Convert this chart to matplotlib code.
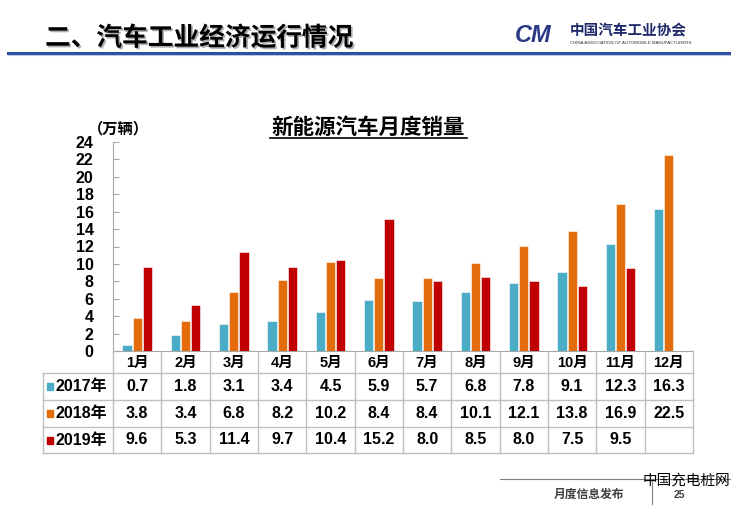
import numpy as np
import matplotlib
matplotlib.use("Agg")
import matplotlib.pyplot as plt
from matplotlib import patheffects as pe
from matplotlib.lines import Line2D
from matplotlib.patches import Rectangle

months = ["1月", "2月", "3月", "4月", "5月", "6月", "7月", "8月", "9月", "10月", "11月", "12月"]
series_names = ["2017年", "2018年", "2019年"]
sales_2017 = [0.7, 1.8, 3.1, 3.4, 4.5, 5.9, 5.7, 6.8, 7.8, 9.1, 12.3, 16.3]
sales_2018 = [3.8, 3.4, 6.8, 8.2, 10.2, 8.4, 8.4, 10.1, 12.1, 13.8, 16.9, 22.5]
sales_2019 = [9.6, 5.3, 11.4, 9.7, 10.4, 15.2, 8.0, 8.5, 8.0, 7.5, 9.5, None]
yticks = list(range(0, 25, 2))

colors = ["#4BACC6", "#E46C0A", "#C00000"]
CJK = ["Noto Sans CJK SC", "DejaVu Sans"]
NUM = ["Liberation Sans", "Noto Sans CJK SC"]

W, H = 731, 512
fig = plt.figure(figsize=(W / 100, H / 100), dpi=100)
fig.patch.set_facecolor("white")

def fx(px):
    return px / W

def fy(py):
    return 1 - py / H

# ---- header ----
fig.text(fx(45), fy(38), "二、汽车工业经济运行情况", family=CJK, weight="bold", fontsize=18.5,
         color="black", va="center", ha="left",
         path_effects=[pe.withSimplePatchShadow(offset=(1.2, -1.2), shadow_rgbFace="#999999", alpha=0.8)])
fig.add_artist(Line2D([fx(8), 1.0], [fy(52.5), fy(52.5)], color="#2E4E9E", lw=2.2))
fig.add_artist(Line2D([fx(8), 1.0], [fy(54.5), fy(54.5)], color="#B8C4E0", lw=0.8))
# logo
fig.text(fx(515), fy(35), "CM", family=["Liberation Sans"], weight="bold", style="italic",
         fontsize=17, color="#2B3886", va="center", ha="left")
fig.text(fx(570), fy(30), "中国汽车工业协会", family=CJK, weight="bold", fontsize=10.5,
         color="#1F2A6B", va="center", ha="left")
fig.text(fx(570), fy(43), "CHINA ASSOCIATION OF AUTOMOBILE MANUFACTURERS", family=["Liberation Sans"],
         fontsize=3.2, color="#333333", va="center", ha="left")

# ---- chart ----
ax_l, ax_r, ax_t, ax_b = 113, 693, 142, 351
ax = fig.add_axes([fx(ax_l), fy(ax_b), fx(ax_r - ax_l), (ax_b - ax_t) / H])
x = np.arange(len(months))
bw = 0.19
offs = [-0.21, 0.0, 0.21]
for vals, c, o in zip([sales_2017, sales_2018, sales_2019], colors, offs):
    v = np.array([np.nan if a is None else a for a in vals], dtype=float)
    ax.bar(x + o, v, width=bw, color=c, edgecolor="white", linewidth=0.4, zorder=3)
ax.set_xlim(-0.5, len(months) - 0.5)
ax.set_ylim(0, 24)
ax.set_yticks(yticks)
ax.set_yticklabels([str(t) for t in yticks], family=NUM, weight="bold", fontsize=11.5)
ax.set_xticks([])
for s in ["top", "right"]:
    ax.spines[s].set_visible(False)
ax.spines["left"].set_color("#A6A6A6")
ax.spines["bottom"].set_color("#A6A6A6")
ax.tick_params(axis="y", direction="in", length=4, color="#A6A6A6", pad=14)
ax.set_facecolor("none")

fig.text(fx(368), fy(127), "新能源汽车月度销量", family=CJK, weight="bold", fontsize=15.5,
         ha="center", va="center")
fig.add_artist(Line2D([fx(270), fx(467)], [fy(138), fy(138)], color="black", lw=1.2))
fig.text(fx(88), fy(128), "（万辆）", family=CJK, weight="bold", fontsize=11, ha="left", va="center")

# ---- data table ----
col_w = (ax_r - ax_l) / len(months)
lab_left = 43
tb = fig.add_axes([fx(lab_left), fy(453), fx(ax_r - lab_left), (453 - 351) / H])
tb.set_xlim(-0.5 - (ax_l - lab_left) / col_w, len(months) - 0.5)
tb.set_ylim(453, 351)
tb.axis("off")
rows_y = [351, 373, 400, 427, 453]
gc = "#BFBFBF"
for yb in rows_y[1:]:
    tb.plot([tb.get_xlim()[0], len(months) - 0.5], [yb, yb], color=gc, lw=1, clip_on=False)
tb.plot([tb.get_xlim()[0]] * 2, [373, 453], color=gc, lw=1, clip_on=False)
for i in range(len(months) + 1):
    tb.plot([i - 0.5, i - 0.5], [351, 453], color=gc, lw=1, clip_on=False)
for i, m in enumerate(months):
    tb.text(i, (rows_y[0] + rows_y[1]) / 2 + 1, m, family=NUM, weight="bold", fontsize=10.5,
            ha="center", va="center")
lab_x0 = tb.get_xlim()[0]
for r, (name, vals, c) in enumerate(zip(series_names, [sales_2017, sales_2018, sales_2019], colors)):
    yc = (rows_y[r + 1] + rows_y[r + 2]) / 2
    tb.add_patch(Rectangle((lab_x0 + 0.08, yc - 3.5), 0.13, 7, color=c, clip_on=False))
    tb.text(lab_x0 + 0.26, yc, name, family=NUM, weight="bold", fontsize=11.5, ha="left", va="center")
    for i, v in enumerate(vals):
        if v is not None:
            tb.text(i, yc, f"{v:.1f}", family=NUM, weight="bold", fontsize=11.5, ha="center", va="center")

# ---- footer ----
fig.add_artist(Line2D([fx(500), 1.0], [fy(479), fy(479)], color="#7F7F7F", lw=0.8))
fig.add_artist(Line2D([fx(652), fx(652)], [fy(479), fy(504)], color="#7F7F7F", lw=0.8))
fig.text(fx(589), fy(494), "月度信息发布", family=CJK, weight="bold", fontsize=8.5, color="#404040",
         ha="center", va="center")
fig.text(fx(679), fy(495), "25", family=NUM, weight="bold", fontsize=7.5, color="#404040",
         ha="center", va="center")
fig.text(fx(686), fy(481), "中国充电桩网", family=CJK, fontsize=10.5, color="black",
         ha="center", va="center")

fig.savefig("out.png", dpi=100, facecolor="white")
